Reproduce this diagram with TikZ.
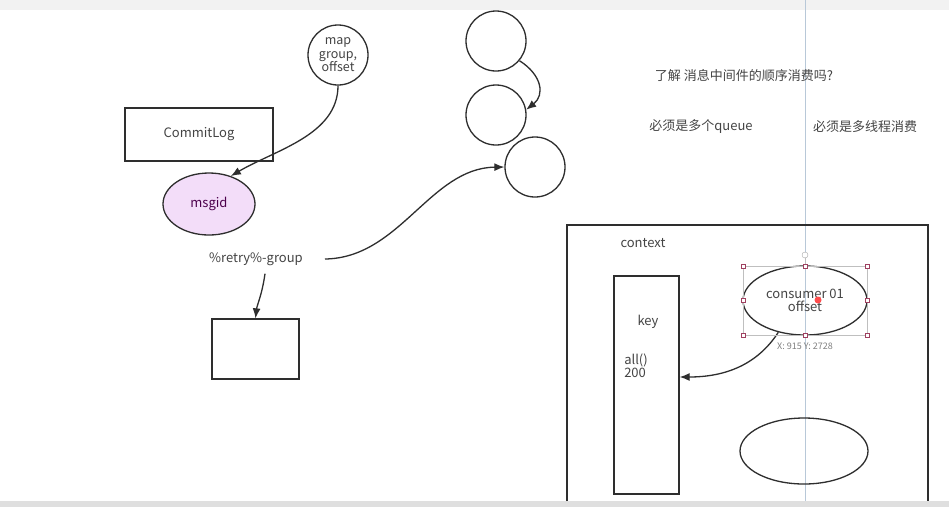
\documentclass[tikz,border=0pt]{standalone}
\usepackage{fontspec}
\setmainfont{Noto Sans CJK SC}
\usetikzlibrary{arrows.meta,shapes.geometric}
\definecolor{txt}{HTML}{444444}
\definecolor{ln}{HTML}{2E2E2E}
\definecolor{lilac}{HTML}{F3DDF9}
\definecolor{guide}{HTML}{B8C8D8}
\tikzset{
  shp/.style={draw=ln, line width=1.3pt, inner sep=0pt},
  circ/.style={shp, circle, minimum size=60pt},
  box/.style={shp, rectangle},
  lbl/.style={text=txt, font=\fontsize{13}{13}\selectfont, inner sep=0pt, align=center},
  arr/.style={draw=ln, line width=1.3pt, -{Latex[length=10pt,width=8pt]}},
  hdl/.style={draw=gray!70, fill=white, line width=0.4pt, circle, minimum size=4pt, inner sep=0pt}
}
\begin{document}
\begin{tikzpicture}[x=1pt,y=-1pt]
\useasboundingbox (0,0) rectangle (949,507);
\fill[white] (0,0) rectangle (949,507);
% top and bottom bars
\fill[gray!10] (0,0) rectangle (949,10);
\fill[gray!25] (0,501) rectangle (949,507);
% guide line
\draw[guide, line width=0.7pt] (805,0) -- (805,501);

% left part
\node[circ, minimum size=60pt] (mapc) at (338,55) {};
\node[lbl, font=\fontsize{12.5}{13.5}\selectfont] at (mapc) {map\\group,\\offset};
\node[box, minimum width=148pt, minimum height=53pt] (commit) at (199,134.5) {};
\node[lbl] at (commit) {CommitLog};
\node[shp, ellipse, fill=lilac, minimum width=92pt, minimum height=62pt] (msgid) at (209,204) {};
\node[lbl, text=violet!60!black] at (msgid) {msgid};
\node[lbl] (retry) at (256,259) {\%retry\%-group};
\node[box, minimum width=87pt, minimum height=60pt] (rbox) at (255.5,349) {};

% circles
\node[circ] (c1) at (496,41) {};
\node[circ] (c2) at (496,115) {};
\node[circ] (c3) at (535,167) {};

% arrows left
\draw[arr] (mapc.south) .. controls (338,135) and (275,150) .. (msgid.52);
\draw[arr] (retry.south) ++(9,8) .. controls (262,295) and (257,305) .. (rbox.north);
\draw[arr] (retry.east) ++(22,0) .. controls (400,258) and (430,168) .. (c3.west);
\draw[arr] (c1.-40) .. controls (542,75) and (545,95) .. (c2.10);

% chinese text
\node[lbl] (q) at (744,76) {了解 消息中间件的顺序消费吗?};
\node[lbl] (q1) at (701,127) {必须是多个queue};
\node[lbl] (q2) at (865,127) {必须是多线程消费};

% context
\draw[ln, line width=1.3pt] (567,501) -- (567,225) -- (928,225) -- (928,501);
\node[lbl] (ctx) at (643,243) {context};
\node[box, minimum width=65pt, minimum height=218pt] (key) at (646.5,385) {};
\node[lbl] at (648,322) {key};
\node[lbl, align=left, font=\fontsize{13}{13}\selectfont] at (636,366) {all()\\200};
\node[shp, ellipse, minimum width=124pt, minimum height=69pt] (cons) at (805,300.5) {};
\node[lbl, font=\fontsize{13}{13}\selectfont] at (cons) {consumer 01\\offset};
\node[shp, ellipse, minimum width=128pt, minimum height=66pt] (ell2) at (804,451) {};
\draw[arr] (cons.230) .. controls (757,365) and (725,377) .. (key.east |- 0,377);

% selection handles
\draw[gray!50, line width=0.4pt] (743,266) rectangle (867,335);
\draw[gray!50, line width=0.4pt] (805,266) -- (805,256);
\foreach \p in {(743,266),(805,266),(867,266),(743,300.5),(867,300.5),(743,335),(805,335),(867,335)}
  \node[draw=purple!50!gray, fill=white, line width=0.4pt, minimum size=4pt, inner sep=0pt] at \p {};
\node[hdl, minimum size=6pt] at (805,255) {};
\node[text=gray, font=\fontsize{9}{9}\selectfont, inner sep=0pt] at (805,346) {X: 915  Y: 2728};
\fill[red!70] (818,300) circle (3.5pt);
\end{tikzpicture}
\end{document}
